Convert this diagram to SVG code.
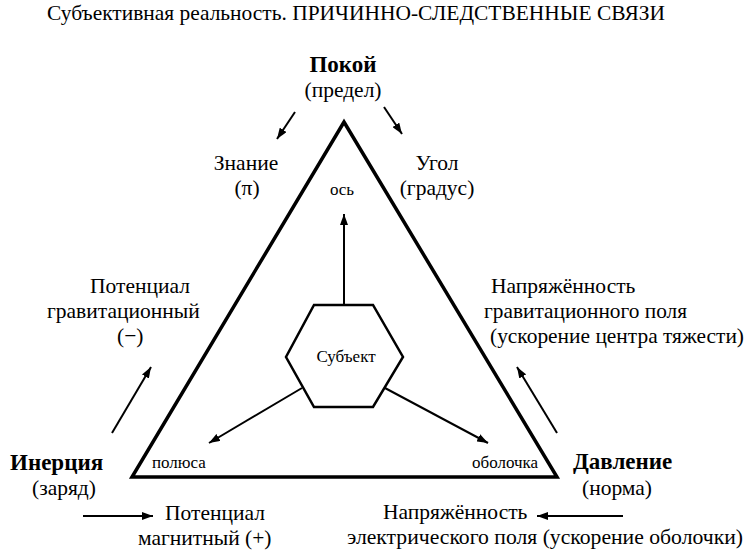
<svg xmlns="http://www.w3.org/2000/svg" width="750" height="550" viewBox="0 0 750 550">
  <defs>
    <marker id="ah" markerUnits="userSpaceOnUse" markerWidth="12" markerHeight="8" refX="11" refY="4" orient="auto">
      <path d="M0,0 L11,4 L0,8 Z" fill="#000"/>
    </marker>
    <style>
      text { font-family: 'Liberation Serif', 'DejaVu Serif', 'Times New Roman', serif; fill: #000; }
      .r { font-size: 21.5px; }
      .b { font-size: 23px; font-weight: bold; }
      .s { font-size: 17px; }
      .c { text-anchor: middle; }
      .conn line { stroke: #000; stroke-width: 2; marker-end: url(#ah); }
    </style>
  </defs>
  <rect width="750" height="550" fill="#fff"/>

  <g id="title">
    <text class="r" x="47" y="20" textLength="618" lengthAdjust="spacingAndGlyphs">Субъективная реальность. ПРИЧИННО-СЛЕДСТВЕННЫЕ СВЯЗИ</text>
  </g>

  <g id="triangle">
    <polygon points="344,122 557,477 132,477" fill="none" stroke="#000" stroke-width="3.5" stroke-linejoin="miter"/>
    <text class="s c" x="342" y="195">ось</text>
    <text class="s" x="152" y="468">полюса</text>
    <text class="s" x="472" y="468">оболочка</text>
  </g>

  <g id="subject">
    <polygon points="314,305 373,305 403,357 373,407 314,407 286,357" fill="#fff" stroke="#000" stroke-width="2.5"/>
    <text class="s c" x="346" y="362">Субъект</text>
  </g>

  <g id="pokoy">
    <text class="b c" x="343" y="72">Покой</text>
    <text class="r c" x="343" y="97">(предел)</text>
  </g>

  <g id="znanie">
    <text class="r c" x="246" y="170">Знание</text>
    <text class="r c" x="247" y="195">(π)</text>
  </g>

  <g id="ugol">
    <text class="r c" x="437" y="170">Угол</text>
    <text class="r c" x="437" y="195">(градус)</text>
  </g>

  <g id="potential-grav">
    <text class="r" x="90" y="293">Потенциал</text>
    <text class="r" x="47" y="318">гравитационный</text>
    <text class="r" x="117" y="343">(−)</text>
  </g>

  <g id="napr-grav">
    <text class="r" x="491" y="293">Напряжённость</text>
    <text class="r" x="484" y="318" textLength="203" lengthAdjust="spacingAndGlyphs">гравитационного поля</text>
    <text class="r" x="490" y="343" textLength="254" lengthAdjust="spacingAndGlyphs">(ускорение центра тяжести)</text>
  </g>

  <g id="inertia">
    <text class="b" x="10" y="470">Инерция</text>
    <text class="r" x="32" y="495">(заряд)</text>
  </g>

  <g id="davlenie">
    <text class="b" x="573" y="469">Давление</text>
    <text class="r" x="582" y="495">(норма)</text>
  </g>

  <g id="potential-magn">
    <text class="r" x="165" y="520">Потенциал</text>
    <text class="r" x="138" y="545">магнитный (+)</text>
  </g>

  <g id="napr-el">
    <text class="r" x="383" y="519">Напряжённость</text>
    <text class="r" x="347" y="544" textLength="396" lengthAdjust="spacingAndGlyphs">электрического поля (ускорение оболочки)</text>
  </g>

  <g id="connectors" class="conn">
    <line x1="295" y1="112" x2="277" y2="139"/>
    <line x1="384" y1="107" x2="402" y2="134"/>
    <line x1="344" y1="305" x2="344" y2="214"/>
    <line x1="302" y1="388" x2="209" y2="443"/>
    <line x1="385" y1="388" x2="488" y2="443"/>
    <line x1="112" y1="433" x2="151" y2="367"/>
    <line x1="557" y1="433" x2="517" y2="367"/>
    <line x1="83" y1="516" x2="153" y2="516"/>
    <line x1="623" y1="516" x2="537" y2="516"/>
  </g>
</svg>
